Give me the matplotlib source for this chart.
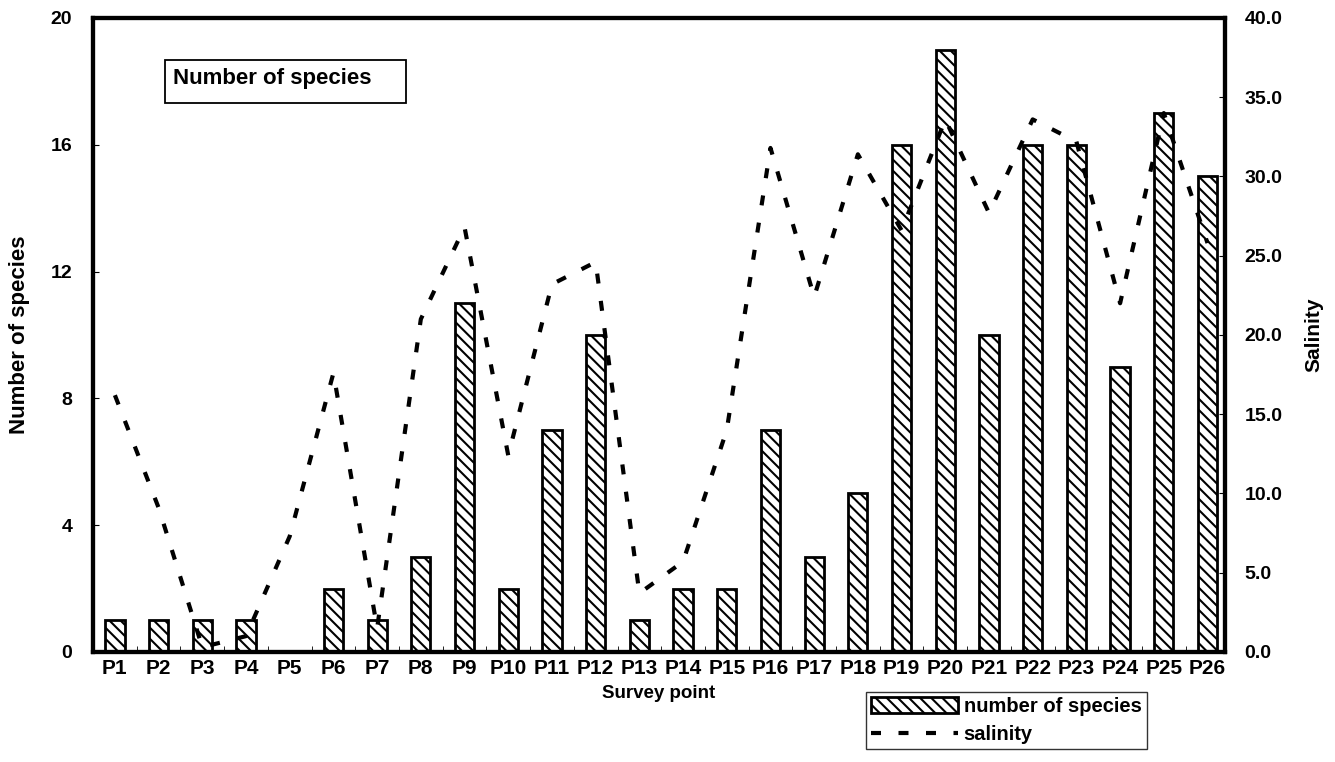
import matplotlib.pyplot as plt
from matplotlib.patches import Rectangle
import numpy as np

# survey points and readings
points = ["P%d" % i for i in range(1, 27)]
species = [1, 1, 1, 1, 0, 2, 1, 3, 11, 2, 7, 10, 1, 2, 2, 7, 3, 5,
           16, 19, 10, 16, 16, 9, 17, 15]
salinity = [16.2, 9.1, 0.3, 1.0, 7.3, 17.6, 1.5, 21.0, 26.8, 12.4, 23.2, 24.6, 3.7,
            5.7, 14.0, 31.8, 22.4, 31.4, 26.6, 33.6, 27.7, 33.6, 32.2, 22.0, 34.0, 25.8]

plt.rcParams['font.family'] = ['Liberation Sans', 'DejaVu Sans']
plt.rcParams['font.weight'] = 'bold'
plt.rcParams['axes.labelweight'] = 'bold'
plt.rcParams['hatch.linewidth'] = 1.5

fig = plt.figure(figsize=(13.35, 7.62), dpi=100)
ax = fig.add_axes([0.0697, 0.1444, 0.8479, 0.832])
x = np.arange(len(points))

# bars for species count
bars = ax.bar(x, species, width=0.44, color="white", edgecolor="black",
              linewidth=2.0, hatch="\\\\\\", label="number of species", zorder=2)
ax.set_xlim(-0.5, 25.4)
ax.set_ylim(0, 20)
ax.set_yticks([0, 4, 8, 12, 16, 20])
ax.set_xticks(x)
ax.set_xticklabels(points)
ax.set_xticks(x[:-1] + 0.5, minor=True)
ax.set_ylabel("Number of species", fontsize=16)
ax.yaxis.set_label_coords(-0.056, 0.5)
ax.set_xlabel("Survey point", fontsize=13.5, labelpad=5)
ax.tick_params(axis="y", direction="in", length=4, labelsize=14, pad=15)
ax.tick_params(axis="x", which="major", length=0, labelsize=15, pad=5)
ax.tick_params(axis="x", which="minor", direction="in", length=4)
for s in ax.spines.values():
    s.set_linewidth(3)

# salinity on the right axis
ax2 = ax.twinx()
line, = ax2.plot(x, salinity, color="black", linewidth=3.0,
                 dashes=(2.4, 4.2), label="salinity")
ax2.set_ylim(0, 40)
ax2.set_yticks(np.arange(0, 41, 5))
ax2.set_yticklabels(["%.1f" % v for v in np.arange(0, 41, 5)])
ax2.set_ylabel("Salinity", fontsize=15)
ax2.yaxis.set_label_coords(1.07, 0.5)
ax2.tick_params(axis="y", direction="in", length=4, labelsize=14, pad=14)
for s in ax2.spines.values():
    s.set_linewidth(3)

# boxed title inside the plot
ax2.add_patch(Rectangle((0.0636, 0.8659), 0.2129, 0.0679, transform=ax2.transAxes,
                        facecolor="white", edgecolor="black", linewidth=1.3, zorder=5))
ax2.text(0.0707, 0.904, "Number of species", transform=ax2.transAxes, fontsize=16,
         va="center", ha="left", zorder=6)

leg = fig.legend([bars, line], ["number of species", "salinity"],
                 loc="upper left", bbox_to_anchor=(866 / 1335, 1 - 692 / 762),
                 fontsize=14.5, frameon=True, fancybox=False, edgecolor="black",
                 handlelength=4.3, handleheight=0.85, borderpad=0.25,
                 labelspacing=0.45, handletextpad=0.3, borderaxespad=0)
leg.get_frame().set_linewidth(1.0)

fig.savefig("out.png", dpi=100)
